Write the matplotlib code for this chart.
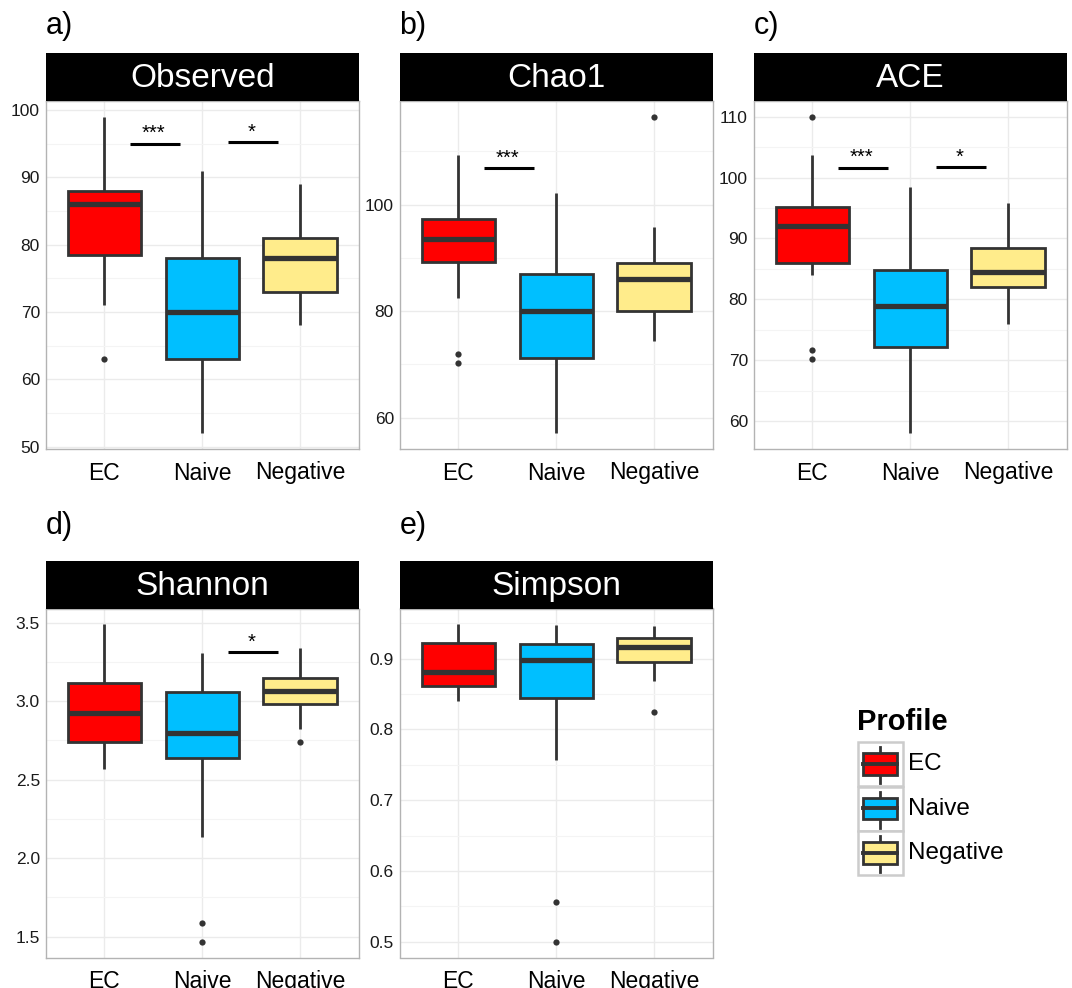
import matplotlib
matplotlib.use("Agg")
import matplotlib.pyplot as plt
from matplotlib.ticker import MultipleLocator
from matplotlib.patches import Rectangle
from matplotlib.lines import Line2D

plt.rcParams['font.family'] = ['Liberation Sans', 'DejaVu Sans']

groups = ["EC", "Naive", "Negative"]
colors = ["#FF0000", "#00BFFF", "#FFEC8B"]

# five-number summaries per group: [whisker_low, q1, median, q3, whisker_high]
observed_box = [[71, 78.5, 86, 88, 99], [52, 63, 70, 78, 91], [68, 73, 78, 81, 89]]
observed_out = [[63], [], []]
observed_sig = [(1, 2, 95.0, "***"), (2, 3, 95.2, "*")]

chao1_box = [[82.4, 89.2, 93.5, 97.4, 109.3], [57.1, 71.2, 80.0, 87.0, 102.2], [74.5, 80.0, 86.0, 89.0, 95.9]]
chao1_out = [[72.0, 70.2], [], [116.5]]
chao1_sig = [(1, 2, 106.8, "***")]

ace_box = [[84.0, 86.0, 92.0, 95.1, 103.7], [58.0, 72.1, 78.9, 84.9, 98.4], [75.9, 82.1, 84.5, 88.5, 95.8]]
ace_out = [[110.0, 71.7, 70.2], [], []]
ace_sig = [(1, 2, 101.6, "***"), (2, 3, 101.7, "*")]

shannon_box = [[2.568, 2.738, 2.926, 3.117, 3.49], [2.138, 2.64, 2.80, 3.062, 3.309], [2.826, 2.981, 3.064, 3.147, 3.34]]
shannon_out = [[], [1.585, 1.468], [2.738]]
shannon_sig = [(2, 3, 3.313, "*")]

simpson_box = [[0.840, 0.861, 0.881, 0.9217, 0.9486], [0.757, 0.845, 0.898, 0.921, 0.947], [0.869, 0.896, 0.917, 0.929, 0.946]]
simpson_out = [[], [0.556, 0.500], [0.825]]
simpson_sig = []

panels = [
    ("a)", "Observed", observed_box, observed_out, observed_sig, 10),
    ("b)", "Chao1", chao1_box, chao1_out, chao1_sig, 20),
    ("c)", "ACE", ace_box, ace_out, ace_sig, 10),
    ("d)", "Shannon", shannon_box, shannon_out, shannon_sig, 0.5),
    ("e)", "Simpson", simpson_box, simpson_out, simpson_sig, 0.1),
]

W, H = 1072, 988
fig = plt.figure(figsize=(W / 100, H / 100), dpi=100)

def fr(x0, y_top, x1, y_bot):
    return [x0 / W, 1 - y_bot / H, (x1 - x0) / W, (y_bot - y_top) / H]

col_left = [45.5, 399.5, 753.5]
col_w = 313.5
rows = [(53, 101, 449), (561, 608.5, 957.5)]

EDGE = "#333333"
for i, (lab, title, box, out, sig, step) in enumerate(panels):
    r, c = divmod(i, 3)
    st, sb, pb = rows[r]
    x0 = col_left[c]
    ax = fig.add_axes(fr(x0, sb, x0 + col_w, pb))
    sax = fig.add_axes(fr(x0, st, x0 + col_w, sb))
    sax.set_facecolor("black")
    sax.set_xticks([]); sax.set_yticks([])
    for s in sax.spines.values():
        s.set_visible(False)
    sax.text(0.5, 0.47, title, color="white", fontsize=24, ha="center", va="center",
             transform=sax.transAxes)
    fig.text(x0 / W, 1 - 26 / H if r == 0 else 1 - 526 / H, lab, fontsize=22,
             ha="left", va="center")

    stats = []
    for g, b, o in zip(groups, box, out):
        stats.append(dict(label=g, whislo=b[0], q1=b[1], med=b[2], q3=b[3], whishi=b[4], fliers=o))
    bp = ax.bxp(stats, positions=[1, 2, 3], widths=0.75, patch_artist=True, showcaps=False,
                boxprops=dict(edgecolor=EDGE, linewidth=2.0),
                medianprops=dict(color=EDGE, linewidth=3.8, solid_capstyle="butt"),
                whiskerprops=dict(color=EDGE, linewidth=2.0, solid_capstyle="butt"),
                flierprops=dict(marker="o", markersize=4.5, markerfacecolor=EDGE,
                                markeredgecolor="none"))
    for p, col in zip(bp["boxes"], colors):
        p.set_facecolor(col)
        p.set_zorder(3)
    for m in bp["medians"]:
        m.set_zorder(4)
    for wk in bp["whiskers"]:
        wk.set_zorder(2)

    allv = [v for b in box for v in b] + [v for o in out for v in o]
    lo, hi = min(allv), max(allv)
    pad = (hi - lo) * 0.05
    ax.set_ylim(lo - pad, hi + pad)
    ax.set_xlim(0.4, 3.6)
    ax.yaxis.set_major_locator(MultipleLocator(step))
    ax.yaxis.set_minor_locator(MultipleLocator(step / 2))
    ax.set_xticks([1, 2, 3])
    ax.set_xticklabels(groups)
    ax.tick_params(axis="x", labelsize=16.5, length=0, pad=9, colors="black")
    ax.tick_params(axis="y", labelsize=12.5, length=0, pad=4, colors="#1A1A1A")
    ax.tick_params(axis="y", which="minor", length=0)
    ax.grid(True, which="major", color="#EBEBEB", linewidth=1.0, zorder=0)
    ax.grid(True, which="minor", axis="y", color="#F4F4F4", linewidth=0.8, zorder=0)
    ax.set_axisbelow(True)
    for s in ax.spines.values():
        s.set_color("#B3B3B3")
        s.set_linewidth(1.0)

    for (g1, g2, yv, txt) in sig:
        ax.plot([g1 + 0.26, g2 - 0.23], [yv, yv], color="black", linewidth=2.2,
                solid_capstyle="butt", zorder=5)
        ax.annotate(txt, xy=((g1 + g2) / 2, yv), xytext=(0, 0.5), textcoords="offset points",
                    ha="center", va="bottom", fontsize=14.5, zorder=5)

# legend
lax = fig.add_axes([0, 0, 1, 1], facecolor="none")
lax.set_xlim(0, W)
lax.set_ylim(H, 0)
lax.axis("off")
lax.text(857, 722, "Profile", fontsize=21, fontweight="bold", ha="left", va="center")
cell_tops = [742, 786.5, 831]
for ct, col, g in zip(cell_tops, colors, groups):
    lax.add_patch(Rectangle((857.5, ct), 45, 44, facecolor="white", edgecolor="#CCCCCC",
                            linewidth=1.8))
    cx = 880
    lax.add_line(Line2D([cx, cx], [ct + 5, ct + 41], color=EDGE, linewidth=2.0))
    lax.add_patch(Rectangle((863, ct + 11), 34, 21.5, facecolor=col, edgecolor=EDGE,
                            linewidth=2.0, zorder=3))
    lax.add_line(Line2D([863, 897], [ct + 21.7, ct + 21.7], color=EDGE, linewidth=2.8,
                        zorder=4))
    lax.text(908, ct + 22, g, fontsize=17.5, ha="left", va="center")

fig.savefig("out.png", dpi=100)
